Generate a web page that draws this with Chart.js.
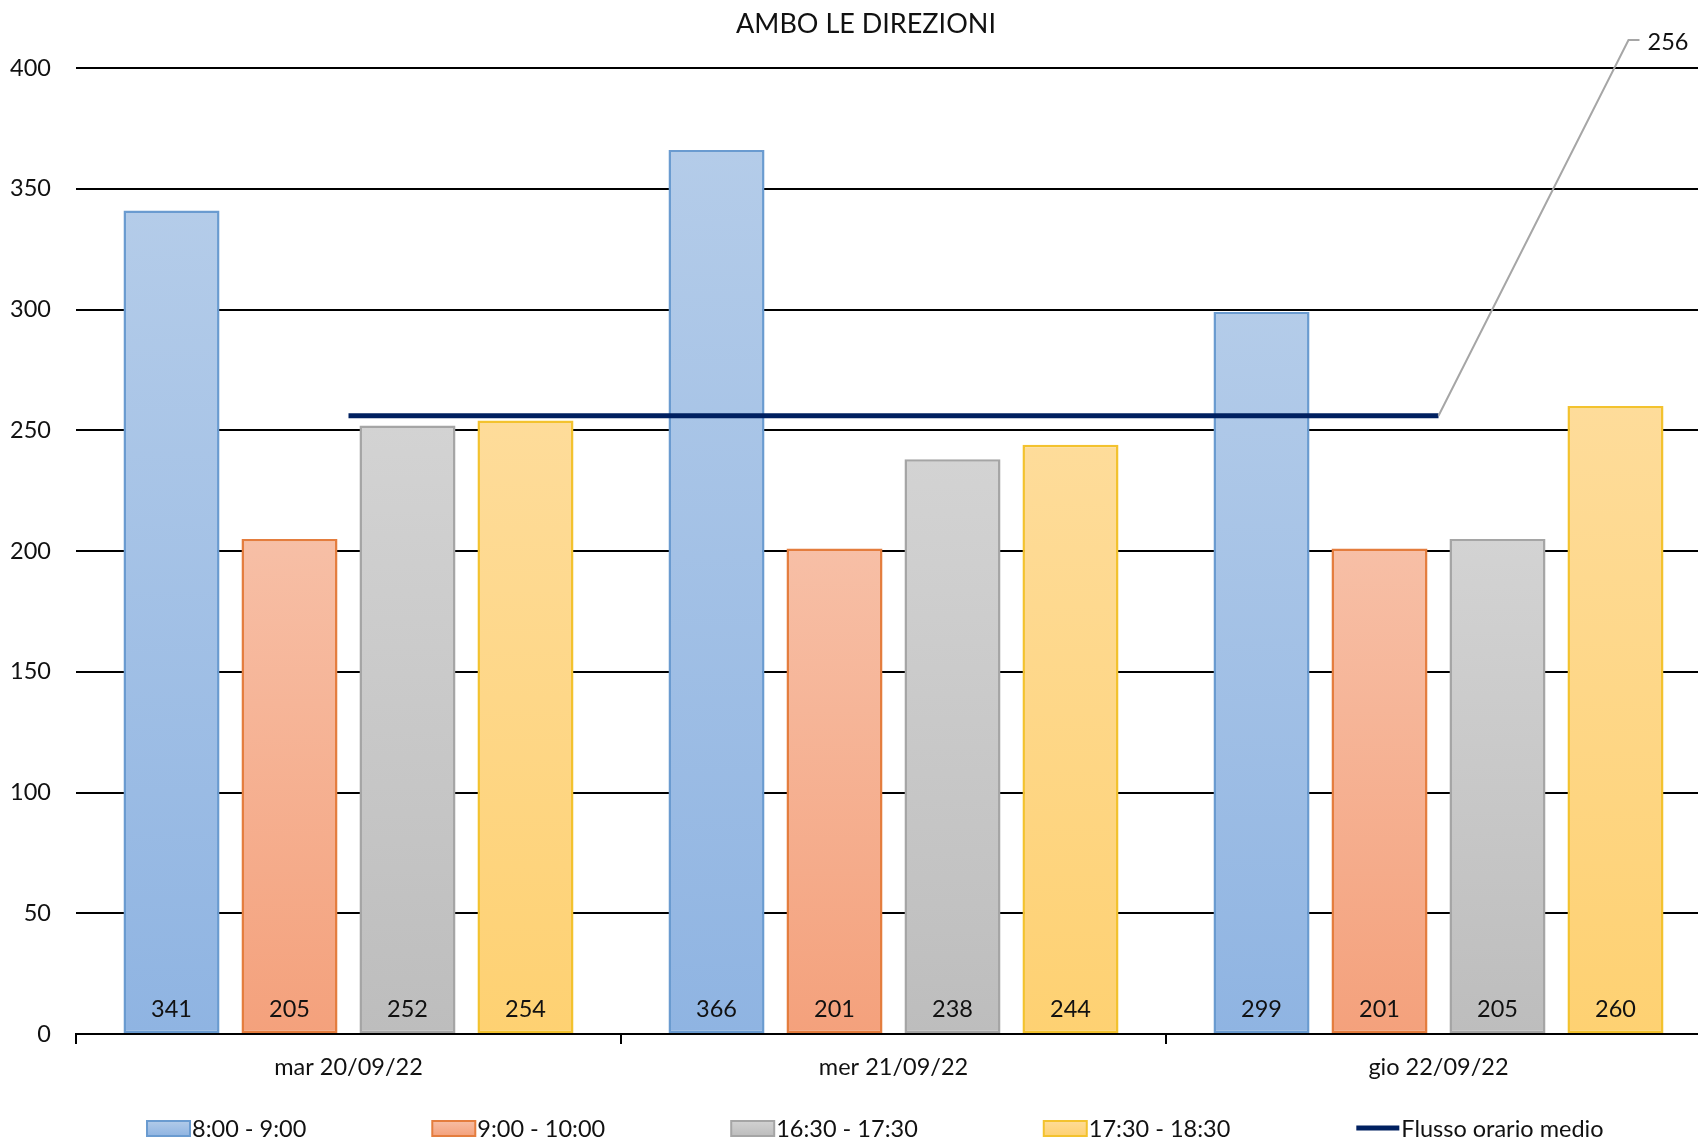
<!DOCTYPE html>
<html>
<head>
<meta charset="utf-8">
<script src="https://cdn.jsdelivr.net/npm/chart.js@4.4.1/dist/chart.umd.min.js"></script>
<style>
  html, body { margin: 0; padding: 0; background: #fff; overflow: hidden; }
  #wrap { width: 1698px; height: 1142px; overflow: hidden; position: relative; }
  canvas { display: block; }
</style>
</head>
<body>
<div id="wrap"><canvas id="chart" width="1733" height="1142"></canvas></div>
<script>
const title = 'AMBO LE DIREZIONI';
const days = ['mar 20/09/22', 'mer 21/09/22', 'gio 22/09/22'];
const slots = ['8:00 - 9:00', '9:00 - 10:00', '16:30 - 17:30', '17:30 - 18:30'];
const slot1 = [341, 366, 299];
const slot2 = [205, 201, 201];
const slot3 = [252, 238, 205];
const slot4 = [254, 244, 260];
const meanLabel = 'Flusso orario medio';
const meanFlow = [256, 256, 256];
const yTicks = [0, 50, 100, 150, 200, 250, 300, 350, 400];

const FONT = 'Lato, "Open Sans", sans-serif';
const FS = 23.5;

// excel style vertical gradient on each bar
function barFill(top, bottom) {
  return (ctx) => {
    const chart = ctx.chart;
    const y = chart.scales.y;
    if (!y || ctx.parsed == null) return bottom;
    const y0 = y.getPixelForValue(0);
    const y1 = y.getPixelForValue(ctx.parsed.y);
    if (!isFinite(y0) || !isFinite(y1) || y0 === y1) return bottom;
    const g = chart.ctx.createLinearGradient(0, y1, 0, y0);
    g.addColorStop(0, top);
    g.addColorStop(1, bottom);
    return g;
  };
}

const palette = [
  { top: '#b4cce9', bottom: '#8fb4e2', border: '#6a9bd0' },
  { top: '#f7bfa6', bottom: '#f4a17c', border: '#e47d3e' },
  { top: '#d3d3d3', bottom: '#bdbdbd', border: '#a5a5a5' },
  { top: '#fedc9a', bottom: '#fed172', border: '#f3c22e' }
];

const barSeries = [slot1, slot2, slot3, slot4].map((vals, i) => ({
  type: 'bar',
  label: slots[i],
  data: vals,
  backgroundColor: barFill(palette[i].top, palette[i].bottom),
  borderColor: palette[i].border,
  borderWidth: 2.5,
  borderSkipped: false,
  categoryPercentage: 0.866,
  barPercentage: 0.814,
  order: 1
}));

// title drawn centred on the whole chart (not the clipped canvas)
const chartTitle = {
  id: 'chartTitle',
  afterDraw(chart) {
    const ctx = chart.ctx;
    ctx.save();
    ctx.font = '27px ' + FONT;
    ctx.fillStyle = '#111';
    ctx.textAlign = 'center';
    ctx.textBaseline = 'middle';
    ctx.fillText(title, 866, 24);
    ctx.restore();
  }
};

// value labels at the foot of every bar
const barValues = {
  id: 'barValues',
  afterDatasetsDraw(chart) {
    const ctx = chart.ctx;
    const base = chart.scales.y.getPixelForValue(0);
    ctx.save();
    ctx.font = FS + 'px ' + FONT;
    ctx.fillStyle = '#111';
    ctx.textAlign = 'center';
    ctx.textBaseline = 'middle';
    chart.data.datasets.forEach((ds, i) => {
      if (ds.type !== 'bar') return;
      chart.getDatasetMeta(i).data.forEach((el, j) => {
        ctx.fillText(String(ds.data[j]), el.x, base - 25);
      });
    });
    ctx.restore();
  }
};

// callout label for the mean line
const meanCallout = {
  id: 'meanCallout',
  afterDatasetsDraw(chart) {
    const idx = chart.data.datasets.findIndex(d => d.type === 'line');
    const pts = chart.getDatasetMeta(idx).data;
    const last = pts[pts.length - 1];
    const val = chart.data.datasets[idx].data[pts.length - 1];
    const ctx = chart.ctx;
    const ex = last.x + 190, ey = 40;
    ctx.save();
    ctx.strokeStyle = '#a6a6a6';
    ctx.lineWidth = 2;
    ctx.beginPath();
    ctx.moveTo(last.x, last.y);
    ctx.lineTo(ex, ey);
    ctx.lineTo(ex + 11, ey);
    ctx.stroke();
    ctx.font = FS + 'px ' + FONT;
    ctx.fillStyle = '#111';
    ctx.textAlign = 'left';
    ctx.textBaseline = 'middle';
    ctx.fillText(String(val), ex + 19, ey + 2);
    ctx.restore();
  }
};

// legend row at the bottom, spaced like the original
const bottomLegend = {
  id: 'bottomLegend',
  afterDraw(chart) {
    const ctx = chart.ctx;
    let x = 147;
    const cy = 1128;
    ctx.save();
    ctx.font = FS + 'px ' + FONT;
    ctx.textBaseline = 'middle';
    ctx.textAlign = 'left';
    chart.data.datasets.forEach((ds, i) => {
      if (ds.type === 'bar') {
        const p = palette[i];
        const g = ctx.createLinearGradient(0, cy - 8, 0, cy + 8);
        g.addColorStop(0, p.top);
        g.addColorStop(1, p.bottom);
        ctx.fillStyle = g;
        ctx.fillRect(x, cy - 7, 43, 15);
        ctx.strokeStyle = p.border;
        ctx.lineWidth = 2;
        ctx.strokeRect(x, cy - 7, 43, 15);
      } else {
        ctx.strokeStyle = ds.borderColor;
        ctx.lineWidth = 5;
        ctx.beginPath();
        ctx.moveTo(x, cy);
        ctx.lineTo(x + 43, cy);
        ctx.stroke();
      }
      ctx.fillStyle = '#111';
      ctx.fillText(ds.label, x + 45, cy + 1);
      x += 45 + ctx.measureText(ds.label).width + 126;
    });
    ctx.restore();
  }
};

new Chart(document.getElementById('chart').getContext('2d'), {
  data: {
    labels: days,
    datasets: [
      ...barSeries,
      {
        type: 'line',
        label: meanLabel,
        data: meanFlow,
        borderColor: '#002060',
        backgroundColor: '#002060',
        borderWidth: 5,
        pointRadius: 0,
        order: 0
      }
    ]
  },
  options: {
    responsive: false,
    animation: false,
    layout: { padding: { left: 0, right: 22, top: 68, bottom: 0 } },
    plugins: {
      legend: { display: false },
      tooltip: { enabled: false },
      title: { display: false }
    },
    scales: {
      x: {
        grid: { offset: true, drawOnChartArea: false, drawTicks: true, tickLength: 10, color: '#000', lineWidth: 2 },
        border: { color: '#000', width: 2 },
        ticks: { color: '#111', font: { family: FONT, size: FS }, padding: 9 },
        afterFit(scale) { scale.height = 108; }
      },
      y: {
        min: 0,
        max: 400,
        afterBuildTicks(scale) { scale.ticks = yTicks.map(v => ({ value: v })); },
        grid: { color: '#000', lineWidth: 2, drawTicks: false },
        border: { display: false },
        ticks: { color: '#111', font: { family: FONT, size: FS }, padding: 25 },
        afterFit(scale) { scale.width = 76; }
      }
    }
  },
  plugins: [chartTitle, barValues, meanCallout, bottomLegend]
});
</script>
</body>
</html>
